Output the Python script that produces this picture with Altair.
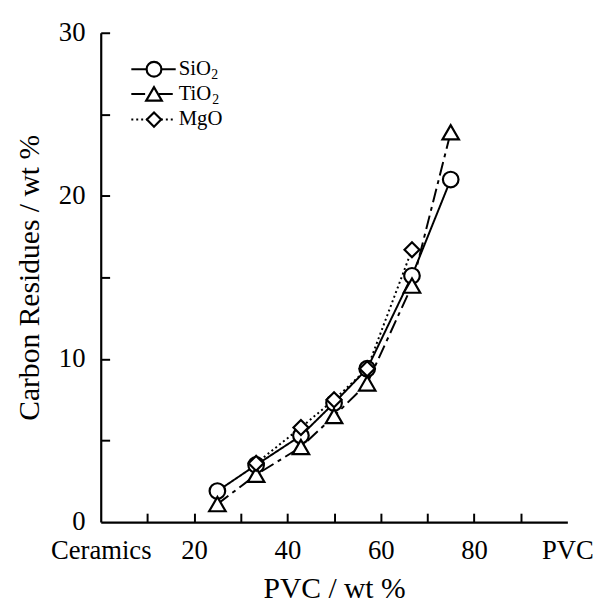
import altair as alt
import pandas as pd

# ---- data ----
pvc = [25, 33.3, 42.9, 50, 57.1, 66.7, 75]
sio2 = [1.9, 3.5, 5.3, 7.3, 9.4, 15.1, 21.0]
tio2 = [1.1, 2.9, 4.6, 6.5, 8.5, 14.5, 23.9]
mgo_pvc = [33.3, 42.9, 50, 57.1, 66.7]
mgo = [3.6, 5.8, 7.5, 9.4, 16.7]

series_names = ["SiO", "TiO", "MgO"]
series_sub = ["2", "2", ""]
x_label_values = [0, 20, 40, 60, 80, 100]
x_minor_ticks = [10, 20, 30, 40, 50, 60, 70, 80, 90]
y_label_values = [0, 10, 20, 30]
y_minor_ticks = [5, 10, 15, 20, 25, 30]

W, H = 473, 496
FONT = "Liberation Serif"

frames = [
    pd.DataFrame({"pvc": pvc, "res": sio2}),
    pd.DataFrame({"pvc": pvc, "res": tio2}),
    pd.DataFrame({"pvc": mgo_pvc, "res": mgo}),
]
dashes = [[1, 0], [14, 5, 4, 5], [2, 3]]
shapes = ["circle", "triangle-up", "diamond"]
sizes = [250, 280, 230]

xs = alt.Scale(domain=[0, 100], nice=False)
ys = alt.Scale(domain=[0, 30], nice=False)

main_x = alt.Axis(
    values=x_label_values,
    labelExpr="datum.value == 0 ? 'Ceramics' : datum.value == 100 ? 'PVC' : datum.label",
    ticks=False, labelFlush=False, labelOverlap=False,
    labelPadding=16, titlePadding=10, domainWidth=2.2, grid=False,
)
main_y = alt.Axis(
    values=y_label_values, ticks=False, labelPadding=16, titlePadding=14,
    domainWidth=2.2, grid=False, labelOverlap=False,
)
tick_x = alt.Axis(
    orient="top", offset=-H, values=x_minor_ticks, labels=False, domain=False,
    ticks=True, tickSize=9, tickWidth=2, grid=False, title="",
)
tick_y = alt.Axis(
    orient="right", offset=-W, values=y_minor_ticks, labels=False, domain=False,
    ticks=True, tickSize=9, tickWidth=2, grid=False, title="",
)

layers = []
for i, df in enumerate(frames):
    if i == 0:
        xenc = alt.X("pvc:Q", scale=xs, axis=main_x, title="PVC / wt %")
        yenc = alt.Y("res:Q", scale=ys, axis=main_y, title="Carbon Residues / wt %")
    else:
        xenc = alt.X("pvc:Q", scale=xs, axis=None)
        yenc = alt.Y("res:Q", scale=ys, axis=None)
    layers.append(
        alt.Chart(df).mark_line(color="black", strokeWidth=2, strokeDash=dashes[i]).encode(x=xenc, y=yenc)
    )
for i, df in enumerate(frames):
    if i == 0:
        xenc = alt.X("pvc:Q", scale=xs, axis=tick_x)
        yenc = alt.Y("res:Q", scale=ys, axis=tick_y)
    else:
        xenc = alt.X("pvc:Q", scale=xs, axis=None)
        yenc = alt.Y("res:Q", scale=ys, axis=None)
    layers.append(
        alt.Chart(df).mark_point(
            shape=shapes[i], size=sizes[i], filled=True, fill="white",
            stroke="black", strokeWidth=2.2, opacity=1,
        ).encode(x=xenc, y=yenc)
    )

# ---- legend (top-left, inside the plot) ----
one = pd.DataFrame({"k": [0]})
leg_rows = [37, 62, 88]
for i in range(3):
    yy = leg_rows[i]
    layers.append(
        alt.Chart(one).mark_rule(color="black", strokeWidth=2, strokeDash=dashes[i]).encode(
            x=alt.value(31), x2=alt.value(76), y=alt.value(yy)
        )
    )
    layers.append(
        alt.Chart(one).mark_point(
            shape=shapes[i], size=sizes[i] * 0.9, filled=True, fill="white",
            stroke="black", strokeWidth=2.2, opacity=1,
        ).encode(x=alt.value(54), y=alt.value(yy))
    )
    layers.append(
        alt.Chart(one).mark_text(
            text=series_names[i], font=FONT, fontSize=21, align="left", baseline="middle", color="black"
        ).encode(x=alt.value(79), y=alt.value(yy))
    )
    if series_sub[i]:
        sub_x = 79 + (33 if i == 0 else 34)
        layers.append(
            alt.Chart(one).mark_text(
                text=series_sub[i], font=FONT, fontSize=14, align="left", baseline="middle", color="black"
            ).encode(x=alt.value(sub_x), y=alt.value(yy + 6))
        )

chart = (
    alt.layer(*layers)
    .resolve_axis(x="independent", y="independent")
    .properties(width=W, height=H, padding={"left": 7, "top": 7, "right": 0, "bottom": 0})
    .configure_view(stroke="transparent")
    .configure_axis(
        labelFont=FONT, titleFont=FONT, labelFontSize=27, titleFontSize=30,
        labelColor="black", titleColor="black", domainColor="black", tickColor="black",
        titleFontWeight="normal", grid=False,
    )
)

chart.save("out.html", embed_options={"renderer": "svg", "actions": False})
